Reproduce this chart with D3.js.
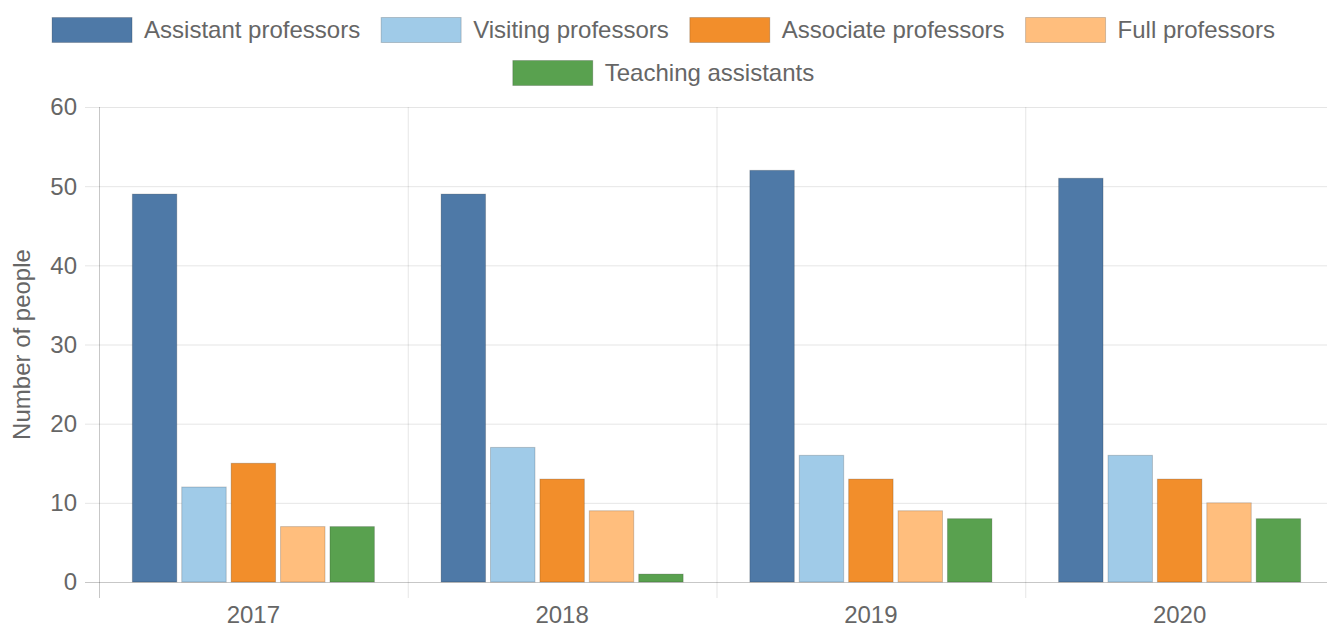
<!DOCTYPE html>
<html>
<head>
<meta charset="utf-8">
<script src="https://cdn.jsdelivr.net/npm/d3@7"></script>
<style>
  body { margin: 0; background: #fff; }
  svg { display: block; font-family: "Liberation Sans", Arial, sans-serif; }
</style>
</head>
<body>
<svg id="chart" width="1327" height="628"></svg>
<script>
// data
var years = ["2017", "2018", "2019", "2020"];
var seriesNames = ["Assistant professors", "Visiting professors", "Associate professors", "Full professors", "Teaching assistants"];
var assistant = [49, 49, 52, 51];
var visiting = [12, 17, 16, 16];
var associate = [15, 13, 13, 13];
var full = [7, 9, 9, 10];
var teaching = [7, 1, 8, 8];
var yTicks = [0, 10, 20, 30, 40, 50, 60];
var colors = ["#4e79a7", "#a0cbe8", "#f28e2b", "#ffbe7d", "#59a14f"];

var seriesValues = [assistant, visiting, associate, full, teaching];

var svg = d3.select("#chart");
var margin = {top: 107, right: -7, bottom: 46, left: 99};
var width = +svg.attr("width") - margin.left - margin.right;
var height = +svg.attr("height") - margin.top - margin.bottom;
var fontSize = 24;
var textColor = "#666";

var g = svg.append("g").attr("transform", `translate(${margin.left}, ${margin.top})`);

var x0 = d3.scaleBand().domain(years).range([0, width]).paddingInner(0).paddingOuter(0);
var x1 = d3.scaleBand().domain(seriesNames)
  .range([x0.bandwidth() * 0.1, x0.bandwidth() * 0.9])
  .paddingInner(0.1).paddingOuter(0.05);
var y = d3.scaleLinear().domain([0, 60]).range([height, 0]);

// horizontal grid
g.append("g").selectAll("line")
  .data(yTicks)
  .enter().append("line")
  .attr("x1", -14).attr("x2", width)
  .attr("y1", d => y(d) + 0.5).attr("y2", d => y(d) + 0.5)
  .attr("stroke", d => d === 0 ? "rgba(0,0,0,0.22)" : "rgba(0,0,0,0.1)");

// vertical grid (category boundaries)
g.append("g").selectAll("line")
  .data(years)
  .enter().append("line")
  .attr("x1", d => x0(d) + 0.5).attr("x2", d => x0(d) + 0.5)
  .attr("y1", 0).attr("y2", height + 16)
  .attr("stroke", (d, i) => i === 0 ? "rgba(0,0,0,0.22)" : "rgba(0,0,0,0.1)");

// y tick labels
g.append("g").selectAll("text")
  .data(yTicks)
  .enter().append("text")
  .attr("x", -22).attr("y", d => y(d))
  .attr("dy", "0.35em")
  .attr("text-anchor", "end")
  .attr("fill", textColor)
  .style("font-size", fontSize + "px")
  .text(d => d);

// x tick labels
g.append("g").selectAll("text")
  .data(years)
  .enter().append("text")
  .attr("x", d => x0(d) + x0.bandwidth() / 2)
  .attr("y", height + 33)
  .attr("dy", "0.35em")
  .attr("text-anchor", "middle")
  .attr("fill", textColor)
  .style("font-size", fontSize + "px")
  .text(d => d);

// y axis title
svg.append("text")
  .attr("transform", `translate(22, ${margin.top + height / 2}) rotate(-90)`)
  .attr("dy", "0.35em")
  .attr("text-anchor", "middle")
  .attr("fill", textColor)
  .style("font-size", fontSize + "px")
  .text("Number of people");

// bars
var groups = g.append("g").selectAll("g")
  .data(years)
  .enter().append("g")
  .attr("transform", d => `translate(${x0(d)}, 0)`);

groups.selectAll("rect")
  .data((d, i) => seriesNames.map((s, k) => ({name: s, value: seriesValues[k][i], color: colors[k]})))
  .enter().append("rect")
  .attr("x", d => x1(d.name))
  .attr("y", d => y(d.value))
  .attr("width", x1.bandwidth())
  .attr("height", d => y(0) - y(d.value))
  .attr("fill", d => d.color)
  .attr("stroke", "rgba(0,0,0,0.18)")
  .attr("stroke-width", 1);

// legend, wrapped into centred rows
var boxW = 80, boxH = 25, boxGap = 12, itemGap = 21, rowH = 43, maxRow = 1300;
var legend = svg.append("g");
var items = seriesNames.map((s, k) => {
  var t = legend.append("text")
    .attr("fill", textColor)
    .style("font-size", fontSize + "px")
    .attr("dy", "0.35em")
    .text(s);
  return {name: s, color: colors[k], text: t, w: boxW + boxGap + t.node().getComputedTextLength()};
});

var rows = [[]], rowW = [0];
items.forEach(it => {
  var r = rows.length - 1;
  var add = (rows[r].length ? itemGap : 0) + it.w;
  if (rowW[r] + add > maxRow && rows[r].length) {
    rows.push([it]); rowW.push(it.w);
  } else {
    rows[r].push(it); rowW[r] += add;
  }
});

rows.forEach((row, ri) => {
  var cx = (+svg.attr("width") - rowW[ri]) / 2;
  var cy = 30 + ri * rowH;
  row.forEach(it => {
    legend.append("rect")
      .attr("x", cx).attr("y", cy - boxH / 2)
      .attr("width", boxW).attr("height", boxH)
      .attr("fill", it.color)
      .attr("stroke", "rgba(0,0,0,0.18)");
    it.text.attr("x", cx + boxW + boxGap).attr("y", cy);
    cx += it.w + itemGap;
  });
});
</script>
</body>
</html>
